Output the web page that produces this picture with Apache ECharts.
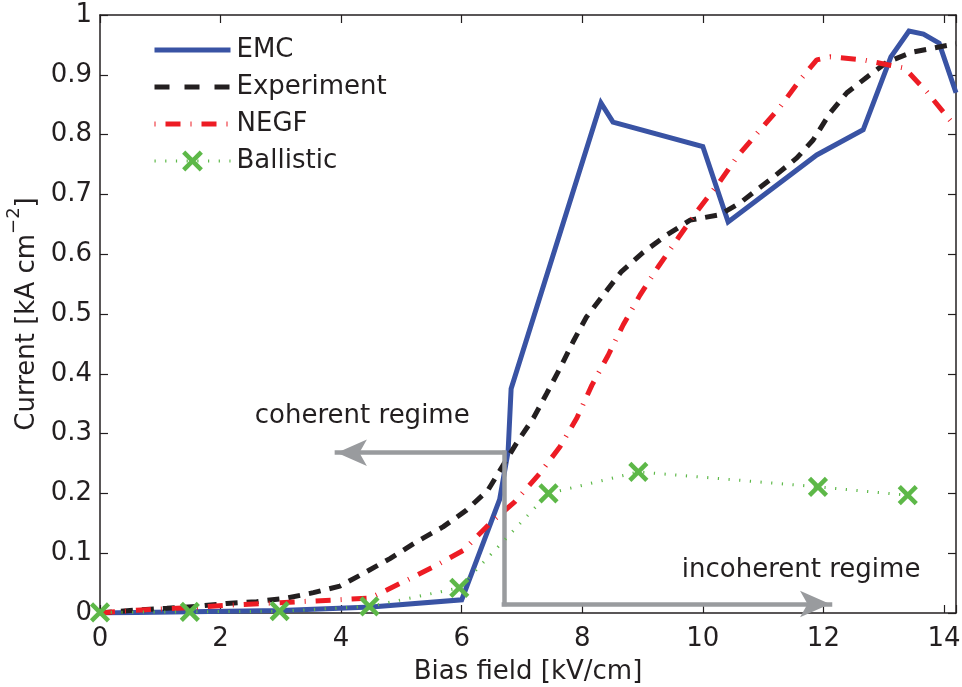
<!DOCTYPE html>
<html><head><meta charset="utf-8">
<script src="https://cdn.jsdelivr.net/npm/echarts@6/dist/echarts.min.js"></script>
<style>html,body{margin:0;padding:0;background:#fff}#c{width:962px;height:687px}</style>
</head><body><div id="c"></div>
<script>
// ---- data (x: bias field kV/cm, y: current kA cm^-2) ----
const emcData = [[0,0],[1.5,0.002],[3,0.004],[4.5,0.01],[6.0,0.022],[6.63,0.19],[6.77,0.27],[6.82,0.375],[8.31,0.853],[8.51,0.821],[10.0,0.78],[10.42,0.654],[11.89,0.766],[12.66,0.808],[13.12,0.93],[13.42,0.973],[13.66,0.968],[13.92,0.953],[14.2,0.87]];
const expData = [[0,0],[0.61,0.005],[1.11,0.008],[1.6,0.011],[2.1,0.016],[2.6,0.019],[3.1,0.025],[3.54,0.034],[3.98,0.045],[4.42,0.069],[4.81,0.091],[5.25,0.119],[5.69,0.144],[6.08,0.172],[6.44,0.206],[6.91,0.284],[7.19,0.326],[7.41,0.367],[7.63,0.409],[7.85,0.454],[8.07,0.495],[8.35,0.532],[8.65,0.571],[9.01,0.603],[9.4,0.632],[9.79,0.657],[10.28,0.666],[10.62,0.686],[11.17,0.729],[11.56,0.761],[11.83,0.791],[12.11,0.836],[12.39,0.87],[12.72,0.896],[13.05,0.921],[13.48,0.938],[14.2,0.952]];
const negfData = [[0,0],[0.5,0.004],[1.49,0.009],[2.1,0.013],[2.71,0.016],[3.32,0.019],[3.93,0.022],[4.48,0.025],[5.03,0.052],[5.53,0.077],[6.03,0.105],[6.47,0.15],[6.88,0.186],[7.3,0.234],[7.63,0.278],[7.91,0.326],[8.16,0.381],[8.43,0.431],[8.68,0.482],[8.96,0.532],[9.26,0.579],[9.59,0.627],[9.92,0.674],[10.28,0.721],[10.57,0.763],[10.9,0.802],[11.28,0.846],[11.61,0.891],[11.89,0.925],[12.11,0.93],[12.66,0.925],[13.35,0.911],[13.72,0.871],[14.2,0.812]];
const ballisticX = [0,1.49,2.98,4.47,5.96,7.44,8.93,11.91,13.4];
const ballisticY = [0.001,0.002,0.003,0.011,0.042,0.2,0.236,0.211,0.197];
const xTicks = [0,2,4,6,8,10,12,14];
// annotation arrows (data coordinates)
const coherentArrow = [[6.70,0.268],[3.93,0.268]];
const regimeDivider = [[6.70,0.268],[6.70,0.015]];
const incoherentArrow = [[6.70,0.015],[12.11,0.015]];
const regimeLabels = [{name:'coherent regime', value:[4.35,0.329]},{name:'incoherent regime', value:[11.63,0.072]}];

const FONT = 'DejaVu Sans';
const TXT = '#231f20';
const GRAY = '#999b9e';
const GREEN = '#5db848';
const ballisticData = ballisticX.map((x,i)=>[x, ballisticY[i]]);

const chart = echarts.init(document.getElementById('c'), null, {renderer:'canvas'});
const axisCommon = {
  axisLine:{show:true, onZero:false, lineStyle:{color:TXT, width:1.5}},
  axisTick:{show:true, inside:true, length:8, lineStyle:{color:TXT, width:1.2}},
  splitLine:{show:false}
};
const hideSym = {opacity:0};
chart.setOption({
  animation:false,
  backgroundColor:'#fff',
  textStyle:{fontFamily:FONT},
  grid:{left:100, right:6, top:15, bottom:74, containLabel:false, outerBoundsMode:'none'},
  legend:{
    orient:'vertical', left:152, top:37, padding:0, itemWidth:76, itemHeight:22, itemGap:11,
    lineStyle:{width:'inherit'},
    data:[
      {name:'EMC', itemStyle:hideSym},
      {name:'Experiment', itemStyle:hideSym, lineStyle:{type:[15,15]}},
      {name:'NEGF', itemStyle:hideSym, lineStyle:{type:[1,10,15,10]}},
      {name:'Ballistic', itemStyle:{color:'rgba(0,0,0,0)', borderColor:GREEN, borderWidth:4.5}}
    ],
    textStyle:{fontFamily:FONT, fontSize:26, color:TXT, padding:[0,0,0,1]}
  },
  xAxis:[
    Object.assign({type:'value', min:0, max:14.2, interval:2, position:'bottom',
      name:'Bias field [kV/cm]', nameLocation:'middle', nameGap:46,
      nameTextStyle:{fontFamily:FONT, fontSize:26, color:TXT},
      axisLabel:{fontFamily:FONT, fontSize:26, color:TXT, margin:13,
        formatter:v=> xTicks.includes(Math.round(v*1000)/1000) ? String(Math.round(v)) : ''}}, axisCommon),
    Object.assign({type:'value', min:0, max:14.2, interval:2, position:'top',
      axisLabel:{show:false}}, axisCommon)
  ],
  yAxis:[
    Object.assign({type:'value', min:0, max:1, interval:0.1, position:'left',
      name:'{a|Current [kA cm}{s|−2}{a|]}', nameLocation:'middle', nameGap:55, nameRotate:90,
      nameTextStyle:{fontFamily:FONT, fontSize:26, color:TXT,
        rich:{a:{fontFamily:FONT, fontSize:26, color:TXT, lineHeight:34, verticalAlign:'bottom'},
              s:{fontFamily:FONT, fontSize:18, color:TXT, lineHeight:34, verticalAlign:'top'}}},
      axisLabel:{fontFamily:FONT, fontSize:26, color:TXT, margin:8,
        formatter:v=> String(Math.round(v*10)/10)}}, axisCommon),
    Object.assign({type:'value', min:0, max:1, interval:0.1, position:'right',
      axisLabel:{show:false}}, axisCommon)
  ],
  series:[
    {name:'EMC', type:'line', data:emcData, symbol:'none', z:2,
      lineStyle:{color:'#3953a4', width:5, join:'miter'}, itemStyle:{color:'#3953a4'}},
    {name:'Experiment', type:'line', data:expData, symbol:'none', z:3,
      lineStyle:{color:TXT, width:5, type:[12,9]}, itemStyle:{color:TXT}},
    {name:'NEGF', type:'line', data:negfData, symbol:'none', z:4,
      lineStyle:{color:'#ed1c24', width:5, type:[15,10,1,10]}, itemStyle:{color:'#ed1c24'}},
    {name:'Ballistic', type:'line', data:ballisticData, z:5,
      symbol:'path://M0,0L10,10M10,0L0,10', symbolSize:17, showAllSymbol:true,
      lineStyle:{color:GREEN, width:3, type:[1.2,9.5]},
      itemStyle:{color:'rgba(0,0,0,0)', borderColor:GREEN, borderWidth:4.5}},
    {name:'annot', type:'line', data:[], z:6, silent:true,
      markLine:{silent:true, animation:false, label:{show:false},
        lineStyle:{color:GRAY, width:4.5, type:'solid', cap:'square'},
        symbol:['none','arrow'], symbolSize:[20,30],
        data:[
          [{coord:coherentArrow[0], symbol:'none'},{coord:coherentArrow[1], symbol:'arrow'}],
          [{coord:regimeDivider[0], symbol:'none'},{coord:regimeDivider[1], symbol:'none'}],
          [{coord:incoherentArrow[0], symbol:'none'},{coord:incoherentArrow[1], symbol:'arrow'}]
        ]}}
  ]
});
chart.setOption({
  graphic: regimeLabels.map(l => {
    const p = chart.convertToPixel({gridIndex:0}, l.value);
    return {type:'text', x:p[0], y:p[1], z:100, silent:true,
      style:{text:l.name, font:'26px "DejaVu Sans"', fill:TXT, align:'center', verticalAlign:'middle'}};
  })
});
</script></body></html>
